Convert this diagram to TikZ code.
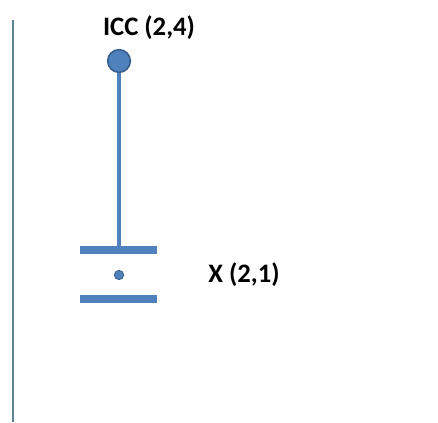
\documentclass[tikz,border=0pt]{standalone}
\usepackage{fontspec}
\setmainfont{Carlito}
\usepackage{tikz}
\usetikzlibrary{positioning}

\definecolor{officeblue}{HTML}{4F81BD}
\definecolor{officeedge}{HTML}{385D8A}
\definecolor{axisgray}{HTML}{5F8295}

\tikzset{
  plate/.style={officeblue, line width=6pt},
  stem/.style={officeblue, line width=3.6pt},
  lbl/.style={font=\fontsize{20}{24}\selectfont\bfseries, text=black, inner sep=0pt}
}

\begin{document}
\begin{tikzpicture}[x=0.75pt, y=-0.75pt]
  \useasboundingbox (0,0) rectangle (438,422);
  % thin axis on the left edge
  \draw[axisgray, line width=1.1pt] (13,20) -- (13,422);
  % top terminal and its label
  \node[circle, fill=officeblue, draw=officeedge, line width=1.2pt,
        minimum size=17pt, inner sep=0pt] (icc) at (119,61) {};
  \node[lbl] (icclbl) at (149,28) {ICC (2,4)};
  % the two plates
  \coordinate (tl) at (80,250);
  \coordinate (tr) at (157,250);
  \coordinate (tm) at (119,250);
  \coordinate (bl) at (80,298.5);
  \coordinate (br) at (157,298.5);
  \draw[plate] (tl) -- (tr);
  \draw[plate] (bl) -- (br);
  % stem from the terminal down to the upper plate
  \draw[stem] (icc.south) -- (tm);
  % centre point between the plates and its label
  \node[circle, fill=officeblue, draw=officeedge, line width=0.6pt,
        minimum size=7pt, inner sep=0pt] (x) at (119,275) {};
  \node[lbl] (xlbl) at (244,275) {X (2,1)};
\end{tikzpicture}
\end{document}
